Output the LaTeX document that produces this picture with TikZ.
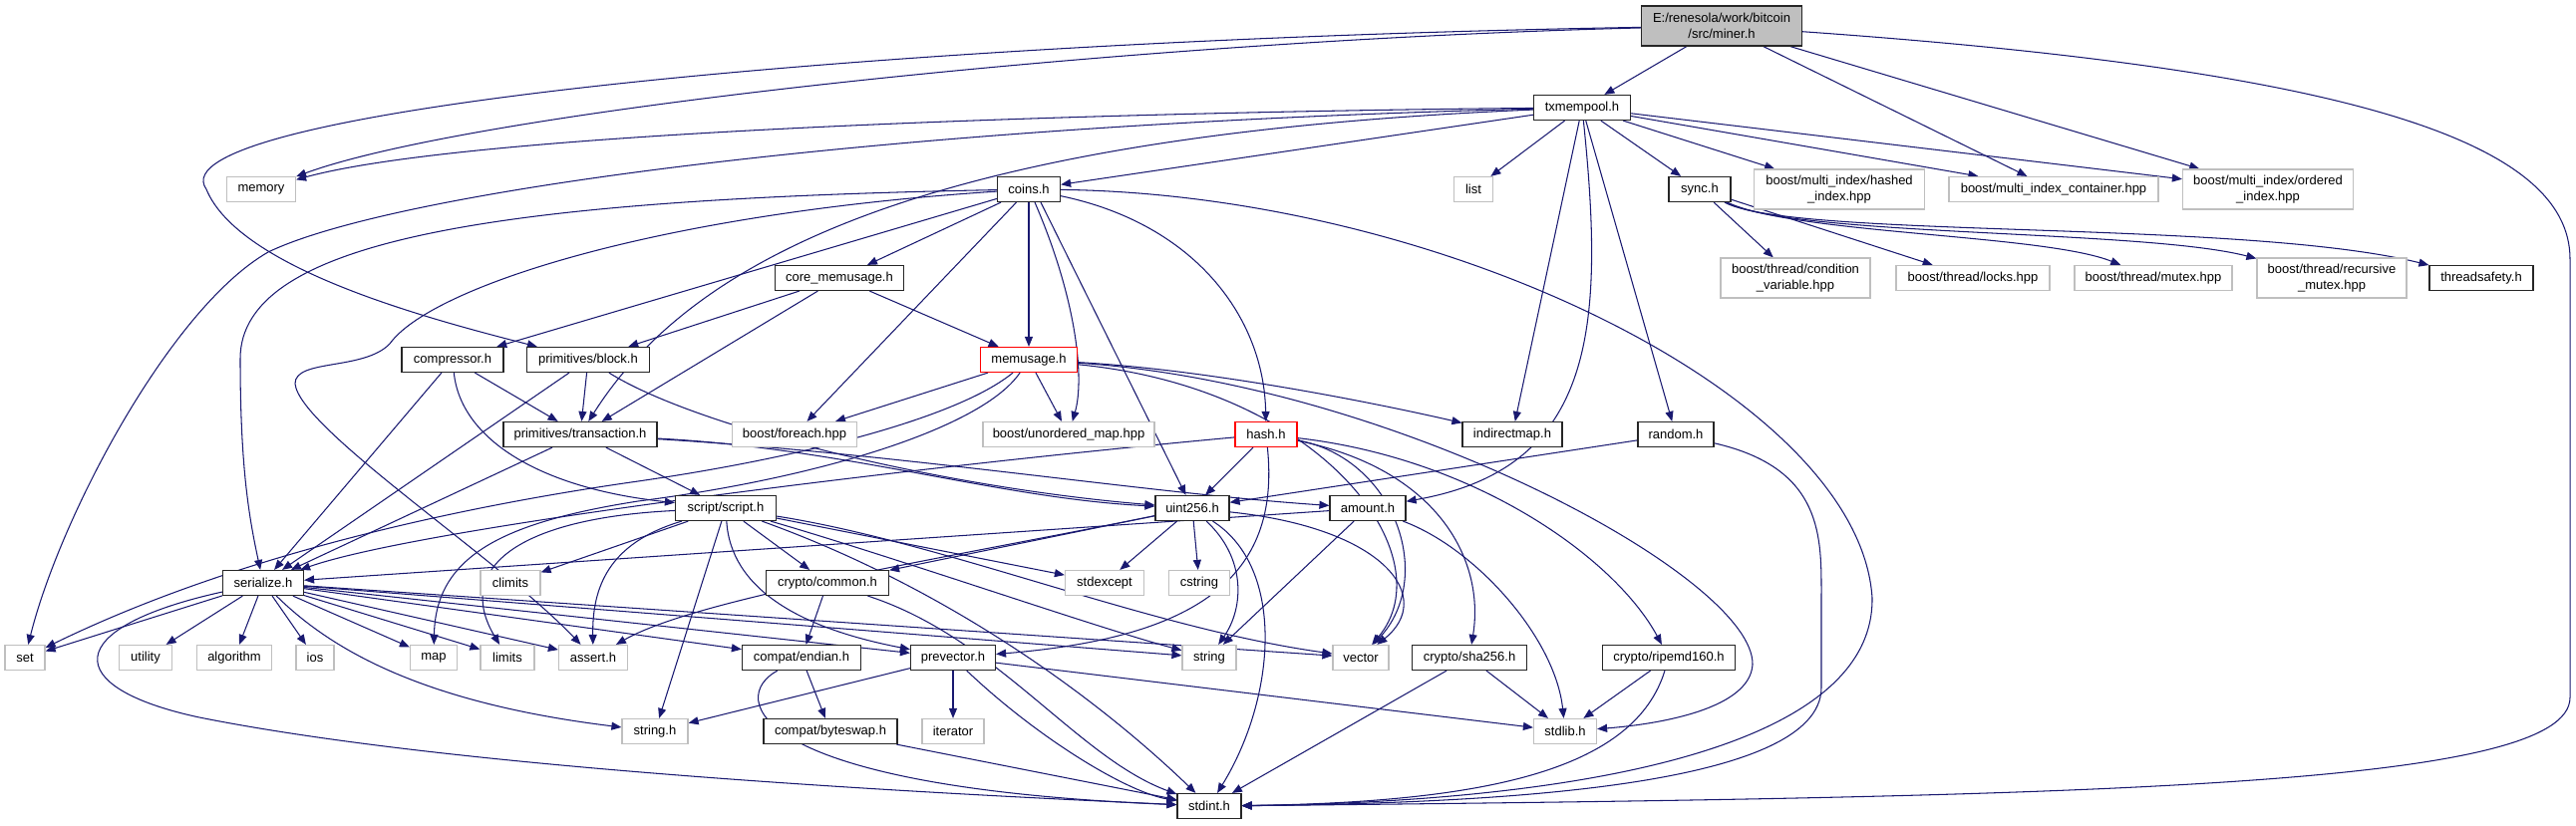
\documentclass[tikz,border=0pt]{standalone}
\usepackage{fontspec}
\setmainfont{Liberation Sans}
\usetikzlibrary{arrows.meta}
\definecolor{edgec}{HTML}{191970}
\definecolor{sysc}{HTML}{BFBFBF}
\definecolor{minerc}{HTML}{BFBFBF}
\newcommand\dfont{\fontsize{13}{15.5}\selectfont}
\pgfdeclarelayer{back}
\pgfdeclarelayer{edges}
\pgfsetlayers{back,edges,main}
\tikzset{
  basebox/.style={inner sep=0pt, minimum height=25pt, font=\dfont, align=center, line width=1.2pt, fill=white},
  projbox/.style={basebox, draw=black!85},
  sysbox/.style={basebox, draw=sysc},
  redbox/.style={basebox, draw=red},
  e/.style={draw=edgec, line width=1.05pt, -{Triangle[length=10pt,width=8pt]}, fill=none}
}
\begin{document}
\begin{tikzpicture}[x=1pt,y=-1pt]
\begin{pgfonlayer}{back}
\fill[white] (0,0) rectangle (2584,828);
\end{pgfonlayer}
\useasboundingbox (0,0) rectangle (2584,828);
% nodes
\node[projbox, fill=minerc, minimum width=161pt, minimum height=40pt] (miner) at (1727,26) {E:/renesola/work/bitcoin\\/src/miner.h};
\node[projbox, minimum width=97pt] (txmempool) at (1587,108) {txmempool.h};
\node[sysbox, minimum width=69pt] (memory) at (262,190) {memory};
\node[sysbox, minimum width=39pt] (list) at (1478,190) {list};
\node[projbox, minimum width=62pt] (sync) at (1705,190) {sync.h};
\node[sysbox, minimum width=171pt, minimum height=40pt] (hashed) at (1845,190) {boost/multi\_index/hashed\\\_index.hpp};
\node[sysbox, minimum width=210pt] (container) at (2060,190) {boost/multi\_index\_container.hpp};
\node[sysbox, minimum width=171pt, minimum height=40pt] (ordered) at (2275,190) {boost/multi\_index/ordered\\\_index.hpp};
\node[projbox, minimum width=63pt] (coins) at (1032,190) {coins.h};
\node[projbox, minimum width=129pt] (core) at (842,279) {core\_memusage.h};
\node[sysbox, minimum width=150pt, minimum height=40pt] (condvar) at (1801,279) {boost/thread/condition\\\_variable.hpp};
\node[sysbox, minimum width=154pt] (locks) at (1979,279) {boost/thread/locks.hpp};
\node[sysbox, minimum width=158pt] (mutex) at (2160,279) {boost/thread/mutex.hpp};
\node[sysbox, minimum width=150pt, minimum height=40pt] (recmutex) at (2339,279) {boost/thread/recursive\\\_mutex.hpp};
\node[projbox, minimum width=104pt] (threadsafety) at (2489,279) {threadsafety.h};
\node[projbox, minimum width=102pt] (compressor) at (454,361) {compressor.h};
\node[projbox, minimum width=123pt] (block) at (590,361) {primitives/block.h};
\node[redbox, minimum width=97pt] (memusage) at (1032,361) {memusage.h};
\node[projbox, minimum width=154pt] (transaction) at (582,436) {primitives/transaction.h};
\node[sysbox, minimum width=125pt] (foreach) at (797,436) {boost/foreach.hpp};
\node[sysbox, minimum width=172pt] (unordered) at (1072,436) {boost/unordered\_map.hpp};
\node[redbox, minimum width=62pt] (hash) at (1270,436) {hash.h};
\node[projbox, minimum width=100pt] (indirectmap) at (1517,436) {indirectmap.h};
\node[projbox, minimum width=76pt] (random) at (1681,436) {random.h};
\node[projbox, minimum width=101pt] (script) at (728,510) {script/script.h};
\node[projbox, minimum width=74pt] (uint256) at (1196,510) {uint256.h};
\node[projbox, minimum width=76pt] (amount) at (1372,510) {amount.h};
\node[projbox, minimum width=81pt] (serialize) at (264,585) {serialize.h};
\node[sysbox, minimum width=60pt] (climits) at (512,585) {climits};
\node[projbox, minimum width=123pt] (common) at (830,585) {crypto/common.h};
\node[sysbox, minimum width=79pt] (stdexcept) at (1108,585) {stdexcept};
\node[sysbox, minimum width=61pt] (cstring) at (1203,585) {cstring};
\node[sysbox, minimum width=40pt] (set) at (25,660) {set};
\node[sysbox, minimum width=53pt] (utility) at (146,660) {utility};
\node[sysbox, minimum width=75pt] (algorithm) at (235,660) {algorithm};
\node[sysbox, minimum width=38pt] (ios) at (316,660) {ios};
\node[sysbox, minimum width=47pt] (map) at (435,660) {map};
\node[sysbox, minimum width=54pt] (limits) at (509,660) {limits};
\node[sysbox, minimum width=69pt] (assert) at (595,660) {assert.h};
\node[projbox, minimum width=119pt] (endian) at (804,660) {compat/endian.h};
\node[projbox, minimum width=85pt] (prevector) at (956,660) {prevector.h};
\node[sysbox, minimum width=54pt] (string) at (1213,660) {string};
\node[sysbox, minimum width=56pt] (vector) at (1365,660) {vector};
\node[projbox, minimum width=115pt] (sha256) at (1474,660) {crypto/sha256.h};
\node[projbox, minimum width=133pt] (ripemd160) at (1674,660) {crypto/ripemd160.h};
\node[sysbox, minimum width=66pt] (stringh) at (657,734) {string.h};
\node[projbox, minimum width=134pt] (byteswap) at (833,734) {compat/byteswap.h};
\node[sysbox, minimum width=62pt] (iterator) at (956,734) {iterator};
\node[sysbox, minimum width=63pt] (stdlib) at (1570,734) {stdlib.h};
\node[projbox, minimum width=64pt] (stdint) at (1213,809) {stdint.h};
\begin{pgfonlayer}{edges}
% miner
\draw[e] (miner) -- (txmempool);
\draw[e] (miner) .. controls (1150,40) and (480,110) .. (memory);
\draw[e] (miner) .. controls (900,40) and (150,110) .. (207,190) .. controls (240,270) and (430,320) .. (block);
\draw[e] (miner) -- (container);
\draw[e] (miner) -- (ordered);
\draw[e] (miner) .. controls (2350,70) and (2578,140) .. (2578,260) -- (2578,700) .. controls (2578,790) and (2100,800) .. (stdint);
% txmempool
\draw[e] (txmempool) -- (list);
\draw[e] (txmempool) .. controls (1150,112) and (480,130) .. (memory);
\draw[e] (txmempool) .. controls (900,125) and (400,190) .. (269,253) .. controls (170,310) and (60,520) .. (set);
\draw[e] (txmempool) .. controls (950,135) and (700,250) .. (transaction);
\draw[e] (txmempool) -- (coins);
\draw[e] (txmempool) -- (indirectmap);
\draw[e] (txmempool) .. controls (1610,330) and (1600,470) .. (amount);
\draw[e] (txmempool) -- (random);
\draw[e] (txmempool) -- (sync);
\draw[e] (txmempool) -- (hashed);
\draw[e] (txmempool) -- (container);
\draw[e] (txmempool) -- (ordered);
% coins
\draw[e] (coins) .. controls (500,200) and (241,240) .. (241,360) .. controls (241,470) and (250,520) .. (serialize);
\draw[e] (coins) .. controls (650,215) and (430,290) .. (391,345) .. controls (365,372) and (296,360) .. (296,385) .. controls (300,430) and (500,560) .. (assert);
\draw[e] (coins) -- (compressor);
\draw[e] (coins) -- (core);
\draw[e] (coins) -- (foreach);
\draw[e] (coins) -- (memusage);
\draw[e] ([xshift=6pt]coins.south) .. controls (1080,300) and (1088,380) .. (unordered);
\draw[e] ([xshift=12pt]coins.south) -- (uint256);
\draw[e] (coins) .. controls (1200,225) and (1268,320) .. (hash);
\draw[e] (coins) .. controls (1450,195) and (1865,400) .. (1878,600) .. controls (1880,760) and (1550,805) .. (stdint);
% core_memusage
\draw[e] (core) -- (block);
\draw[e] (core) -- (transaction);
\draw[e] (core) -- (memusage);
% compressor
\draw[e] (compressor) -- (serialize);
\draw[e] (compressor) -- (transaction);
\draw[e] (compressor) .. controls (462,440) and (540,490) .. (script);
% block
\draw[e] (block) -- (transaction);
\draw[e] (block) -- (serialize);
\draw[e] (block) .. controls (700,430) and (950,490) .. (uint256);
% memusage
\draw[e] (memusage) -- (foreach);
\draw[e] (memusage) -- (unordered);
\draw[e] (memusage) .. controls (960,420) and (800,460) .. (640,483) .. controls (450,510) and (230,560) .. (set);
\draw[e] (memusage) .. controls (985,430) and (820,480) .. (640,503) .. controls (500,525) and (437,560) .. (map);
\draw[e] (memusage) .. controls (1200,370) and (1360,400) .. (indirectmap);
\draw[e] (memusage) .. controls (1330,390) and (1450,560) .. (vector);
\draw[e] (memusage) .. controls (1400,385) and (1760,580) .. (1758,667) .. controls (1755,715) and (1650,728) .. (stdlib);
% transaction
\draw[e] (transaction) .. controls (900,455) and (1150,495) .. (amount);
\draw[e] (transaction) .. controls (850,450) and (1000,500) .. (uint256);
\draw[e] (transaction) -- (script);
\draw[e] (transaction) -- (serialize);
% hash
\draw[e] (hash) -- (uint256);
\draw[e] (hash) .. controls (900,470) and (420,530) .. (serialize);
\draw[e] (hash) .. controls (1285,580) and (1200,640) .. (prevector);
\draw[e] (hash) .. controls (1400,460) and (1440,580) .. (vector);
\draw[e] (hash) .. controls (1440,470) and (1490,560) .. (sha256);
\draw[e] (hash) .. controls (1480,460) and (1620,560) .. (ripemd160);
% random
\draw[e] (random) -- (uint256);
\draw[e] (random) .. controls (1830,470) and (1827,540) .. (1827,600) -- (1827,690) .. controls (1827,790) and (1500,806) .. (stdint);
% sync
\draw[e] (sync) -- (condvar);
\draw[e] (sync) -- (locks);
\draw[e] (sync) .. controls (1800,235) and (2050,235) .. (mutex);
\draw[e] (sync) .. controls (1800,238) and (2150,230) .. (recmutex);
\draw[e] (sync) .. controls (1800,240) and (2250,220) .. (threadsafety);
% amount
\draw[e] (amount) -- (serialize);
\draw[e] (amount) -- (string);
\draw[e] (amount) .. controls (1480,550) and (1560,640) .. (stdlib);
% script
\draw[e] (script) -- (common);
\draw[e] (script) .. controls (733,590) and (800,630) .. (prevector);
\draw[e] (script) -- (stringh);
\draw[e] (script) .. controls (950,590) and (1100,700) .. (stdint);
\draw[e] (script) -- (stdexcept);
\draw[e] (script) .. controls (900,560) and (1100,630) .. (string);
\draw[e] (script) .. controls (950,545) and (1150,630) .. (vector);
\draw[e] (script) .. controls (610,545) and (594,590) .. (assert);
\draw[e] (script) .. controls (520,520) and (455,570) .. (limits);
\draw[e] (script) -- (climits);
% uint256
\draw[e] (uint256) .. controls (950,560) and (700,600) .. (assert);
\draw[e] (uint256) -- (common);
\draw[e] (uint256) -- (stdexcept);
\draw[e] (uint256) -- (cstring);
\draw[e] (uint256) .. controls (1250,560) and (1248,610) .. (string);
\draw[e] (uint256) .. controls (1290,570) and (1280,700) .. (stdint);
\draw[e] (uint256) .. controls (1390,530) and (1440,600) .. (vector);
% serialize
\draw[e] (serialize) -- (set);
\draw[e] (serialize) -- (utility);
\draw[e] (serialize) -- (algorithm);
\draw[e] (serialize) -- (ios);
\draw[e] (serialize) -- (map);
\draw[e] (serialize) -- (limits);
\draw[e] (serialize) -- (assert);
\draw[e] (serialize) .. controls (330,650) and (420,705) .. (stringh);
\draw[e] (serialize) .. controls (60,630) and (60,690) .. (200,720) .. controls (450,770) and (900,795) .. (stdint);
\draw[e] (serialize) -- (endian);
\draw[e] (serialize) -- (prevector);
\draw[e] (serialize) -- (string);
\draw[e] (serialize) -- (vector);
% common
\draw[e] (common) -- (endian);
\draw[e] (common) .. controls (1000,640) and (1080,760) .. (stdint);
% endian
\draw[e] (endian) -- (byteswap);
\draw[e] (endian) .. controls (730,700) and (750,790) .. (stdint);
% byteswap
\draw[e] (byteswap) -- (stdint);
% prevector
\draw[e] (prevector) -- (stringh);
\draw[e] (prevector) -- (iterator);
\draw[e] (prevector) .. controls (1040,740) and (1130,795) .. (stdint);
\draw[e] (prevector) -- (stdlib);
% sha256
\draw[e] (sha256) -- (stdint);
\draw[e] (sha256) -- (stdlib);
% ripemd160
\draw[e] (ripemd160) -- (stdlib);
\draw[e] (ripemd160) .. controls (1640,770) and (1500,805) .. (stdint);
\end{pgfonlayer}
\end{tikzpicture}
\end{document}
